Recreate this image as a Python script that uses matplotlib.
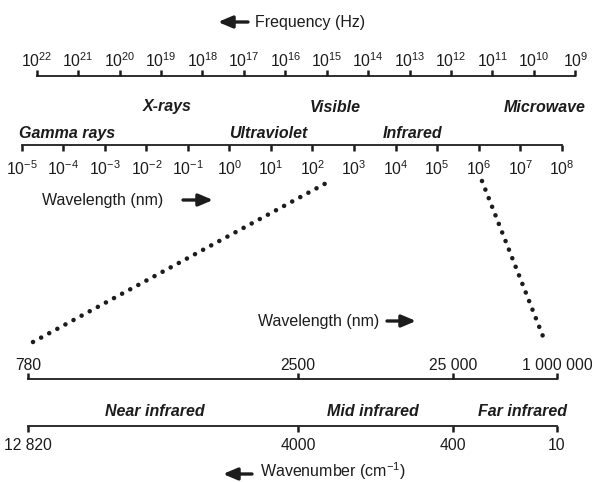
"""
Electromagnetic spectrum diagram with an expanded infrared region.

Top: frequency and wavelength log scales with the named bands.
Bottom: infrared wavelength / wavenumber scales (near, mid, far IR).
"""

import matplotlib
matplotlib.use("Agg")
import matplotlib.pyplot as plt
from matplotlib.ticker import FixedLocator, FixedFormatter, NullLocator

# ── Data ──────────────────────────────────────────────────────────────────────
freq_exponents = [22, 21, 20, 19, 18, 17, 16, 15, 14, 13, 12, 11, 10, 9]
wl_exponents   = [-5, -4, -3, -2, -1, 0, 1, 2, 3, 4, 5, 6, 7, 8]

bands_upper = ["X-rays", "Visible", "Microwave"]
bands_lower = ["Gamma rays", "Ultraviolet", "Infrared"]

ir_wavelength_labels = ["780", "2500", "25 000", "1 000 000"]
ir_wavenumber_labels = ["12 820", "4000", "400", "10"]
ir_bands             = ["Near infrared", "Mid infrared", "Far infrared"]

# ── Layout (pixel coordinates, origin top-left) ───────────────────────────────
W, H = 592, 482
INK  = "#1c1c1c"
FS_TEXT = 11.5
FS_TICK = 11.3

FREQ_SPAN = (36.7, 575.3, 76)     # x0, x1, y of the frequency scale line
WL_SPAN   = (21.7, 561.7, 145)    # wavelength scale line
IR_TICK_X = [28, 298, 453, 557]   # shared tick columns of the two IR scales
IR_WL_Y   = 379
IR_WN_Y   = 426

upper_band_x  = [167, 335, 545]
lower_band_x  = [67, 268, 413]
ir_band_x     = [155, 373, 522]

plt.rcParams["font.family"] = ["Liberation Sans", "DejaVu Sans"]
plt.rcParams["mathtext.fontset"] = "custom"
plt.rcParams["mathtext.rm"] = "Liberation Sans"
plt.rcParams["mathtext.it"] = "Liberation Sans:italic"
plt.rcParams["mathtext.bf"] = "Liberation Sans:bold"
plt.rcParams["mathtext.default"] = "regular"

fig = plt.figure(figsize=(W / 100, H / 100), dpi=100)
fig.patch.set_facecolor("white")

# Overlay in pixel units for captions, arrows and connectors
ax0 = fig.add_axes([0, 0, 1, 1])
ax0.set_xlim(0, W)
ax0.set_ylim(H, 0)
ax0.axis("off")


def scale_axis(x0, x1, y, side, pad):
    """A bare one-spine axis whose visible spine sits on pixel row y."""
    ax = fig.add_axes([x0 / W, 1 - y / H, (x1 - x0) / W, 1e-5])
    ax.patch.set_visible(False)
    for name, sp in ax.spines.items():
        sp.set_visible(name == side)
    ax.spines[side].set_linewidth(1.3)
    ax.spines[side].set_color(INK)
    ax.yaxis.set_visible(False)
    if side == "top":
        ax.xaxis.tick_top()
    ax.tick_params(axis="x", which="major", direction="out", length=4,
                   width=1.8, color=INK, labelsize=FS_TICK, labelcolor=INK, pad=pad)
    ax.xaxis.set_minor_locator(NullLocator())
    return ax


def arrow(x_from, x_to, y):
    ax0.annotate("", xy=(x_to, y), xytext=(x_from, y),
                 arrowprops=dict(arrowstyle="-|>,head_length=0.85,head_width=0.36",
                                 lw=2.4, color=INK, mutation_scale=10,
                                 shrinkA=0, shrinkB=0))


# ── Frequency scale (decreasing to the right) ─────────────────────────────────
ax_f = scale_axis(FREQ_SPAN[0], FREQ_SPAN[1], FREQ_SPAN[2], "top", pad=0.5)
ax_f.set_xscale("log")
ax_f.set_xlim(10.0 ** freq_exponents[0], 10.0 ** freq_exponents[-1])
ax_f.xaxis.set_major_locator(FixedLocator([10.0 ** e for e in freq_exponents]))
ax_f.xaxis.set_major_formatter(FixedFormatter([f"$10^{{{e}}}$" for e in freq_exponents]))
ax_f.xaxis.set_minor_locator(NullLocator())

# ── Wavelength scale (nm) ─────────────────────────────────────────────────────
ax_w = scale_axis(WL_SPAN[0], WL_SPAN[1], WL_SPAN[2], "bottom", pad=6)
ax_w.set_xscale("log")
ax_w.set_xlim(10.0 ** wl_exponents[0], 10.0 ** wl_exponents[-1])
ax_w.xaxis.set_major_locator(FixedLocator([10.0 ** e for e in wl_exponents]))
ax_w.xaxis.set_major_formatter(FixedFormatter([f"$10^{{{e}}}$" for e in wl_exponents]))
ax_w.xaxis.set_minor_locator(NullLocator())

# ── Infrared wavelength and wavenumber scales ─────────────────────────────────
ax_irw = scale_axis(0, W, IR_WL_Y, "top", pad=0.5)
ax_irw.set_xlim(0, W)
ax_irw.spines["top"].set_bounds(IR_TICK_X[0], IR_TICK_X[-1])
ax_irw.set_xticks(IR_TICK_X, ir_wavelength_labels)

ax_irn = scale_axis(0, W, IR_WN_Y, "bottom", pad=5)
ax_irn.set_xlim(0, W)
ax_irn.spines["bottom"].set_bounds(IR_TICK_X[0], IR_TICK_X[-1])
ax_irn.set_xticks(IR_TICK_X, ir_wavenumber_labels)

# ── Captions and band names ───────────────────────────────────────────────────
cap = dict(fontsize=FS_TEXT, color=INK, va="baseline")
band = dict(fontsize=FS_TEXT, color=INK, va="baseline", ha="center",
            fontweight="bold", fontstyle="italic")

arrow(248, 218, 22)
ax0.text(255, 27, "Frequency (Hz)", ha="left", **cap)

for name, x in zip(bands_upper, upper_band_x):
    ax0.text(x, 111.5, name, **band)
for name, x in zip(bands_lower, lower_band_x):
    ax0.text(x, 138, name, **band)

ax0.text(42, 205, "Wavelength (nm)", ha="left", **cap)
arrow(183, 213, 200)

ax0.text(379, 326, "Wavelength (nm)", ha="right", **cap)
arrow(387, 416, 321)

for name, x in zip(ir_bands, ir_band_x):
    ax0.text(x, 416, name, **band)

arrow(252, 223, 474)
ax0.text(260, 477.5, "Wavenumber (cm$^{-1}$)", ha="left", **cap)

# Dotted connectors from the broad spectrum down to the IR expansion
dots = dict(color=INK, lw=3.3, ls=(0, (0.01, 2.0)), dash_capstyle="round")
ax0.plot([33, 330], [342, 181], **dots)
ax0.plot([482, 544], [181, 339], **dots)

fig.savefig("out.png", dpi=100, facecolor="white")
